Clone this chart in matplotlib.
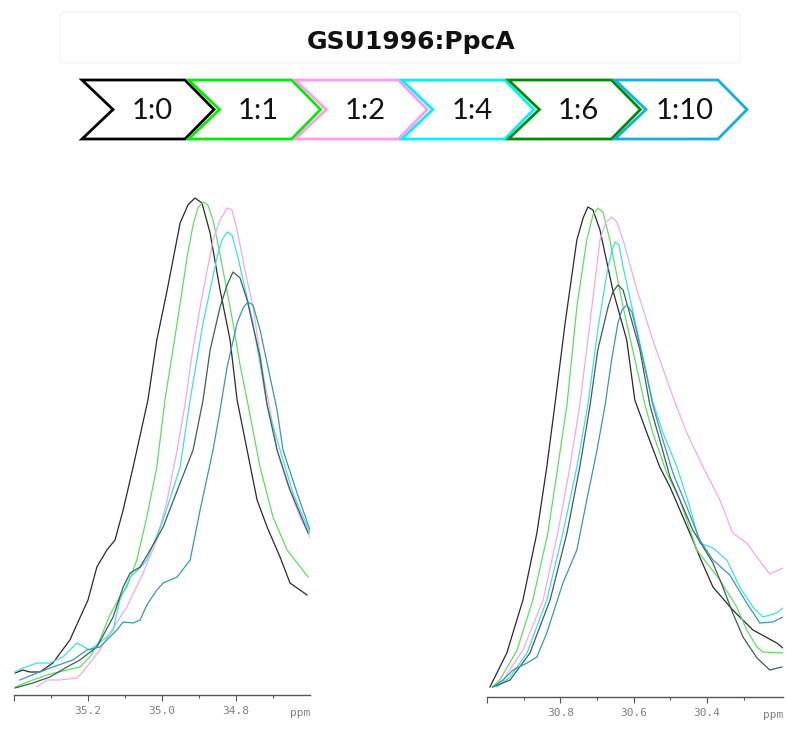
import matplotlib
matplotlib.use("Agg")

import matplotlib.pyplot as plt
import matplotlib.patches as patches

# ======================
# Data
# ======================

title = "GSU1996:PpcA"
ratios = ["1:0", "1:1", "1:2", "1:4", "1:6", "1:10"]
badge_colors = ["#000000", "#00ee00", "#ff9cf2", "#00f2ff", "#008a00", "#12aee8"]
trace_colors = ["#2a2a2a", "#5ee05e", "#f2a8ee", "#3ee0e6", "#3d5f55", "#3a98b0"]

left_ticks = [35.4, 35.2, 35.0, 34.8]
left_ticklabels = ["", "35.2", "35.0", "34.8"]
left_minor = [35.3, 35.1, 34.9, 34.7]
right_ticks = [31.0, 30.8, 30.6, 30.4]
right_ticklabels = ["", "30.8", "30.6", "30.4"]
right_minor = [30.9, 30.7, 30.5, 30.3]

# left panel (35.4 - 34.6 ppm)
l0_ppm = [35.397, 35.376, 35.357, 35.330, 35.295, 35.249, 35.227, 35.200, 35.176, 35.149, 35.127, 35.105, 35.078, 35.038, 35.014,
          34.986, 34.951, 34.930, 34.911, 34.892, 34.870, 34.843, 34.816, 34.797, 34.770, 34.743, 34.716, 34.681, 34.654, 34.608]
l0_int = [4.4, 5.0, 4.6, 4.6, 6.4, 11.0, 14.6, 19.0, 25.6, 29.0, 31.0, 37.0, 45.6, 59.0, 71.0,
          81.0, 94.4, 98.0, 99.4, 98.4, 92.4, 81.0, 71.0, 59.0, 49.0, 39.0, 33.6, 27.6, 22.4, 20.0]

l1_ppm = [35.397, 35.349, 35.311, 35.257, 35.222, 35.195, 35.168, 35.141, 35.114, 35.095, 35.068, 35.041, 35.014, 34.992, 34.959,
          34.932, 34.916, 34.903, 34.889, 34.876, 34.862, 34.851, 34.830, 34.808, 34.789, 34.770, 34.735, 34.700, 34.662, 34.605]
l1_int = [1.6, 3.0, 4.0, 5.0, 5.6, 7.6, 11.0, 16.0, 19.6, 21.6, 27.0, 35.6, 45.6, 59.0, 74.4,
          87.6, 94.0, 97.4, 98.6, 98.0, 95.0, 91.0, 83.0, 74.4, 66.0, 59.0, 45.6, 35.6, 29.0, 23.6]

l2_ppm = [35.338, 35.311, 35.276, 35.230, 35.214, 35.168, 35.132, 35.095, 35.051, 35.014, 34.986, 34.959, 34.938, 34.919,
          34.897, 34.862, 34.843, 34.824, 34.811, 34.797, 34.776, 34.754, 34.727, 34.708, 34.689, 34.662, 34.627, 34.600]
l2_int = [1.6, 3.0, 3.0, 3.4, 4.6, 9.0, 13.4, 17.6, 24.4, 31.0, 39.0, 49.0, 58.0, 68.0,
          77.6, 91.0, 95.0, 97.4, 97.0, 93.0, 85.0, 77.6, 64.4, 57.0, 49.0, 42.4, 35.6, 31.6]

l3_ppm = [35.397, 35.376, 35.338, 35.303, 35.268, 35.230, 35.195, 35.149, 35.132, 35.114, 35.086, 35.065, 35.041, 34.997,
          34.951, 34.924, 34.889, 34.851, 34.838, 34.824, 34.811, 34.795, 34.754, 34.716, 34.681, 34.646, 34.600]
l3_int = [4.6, 5.4, 6.4, 6.4, 7.6, 10.4, 9.0, 11.6, 13.0, 19.0, 23.6, 25.0, 27.0, 35.0,
          45.6, 59.0, 74.4, 87.6, 91.0, 92.6, 92.0, 87.6, 74.4, 58.0, 49.0, 40.4, 32.4]

l4_ppm = [35.397, 35.349, 35.303, 35.257, 35.222, 35.176, 35.132, 35.105, 35.086, 35.059, 35.032, 34.997, 34.951,
          34.916, 34.889, 34.870, 34.843, 34.824, 34.808, 34.789, 34.770, 34.735, 34.716, 34.689, 34.654, 34.605]
l4_int = [1.4, 2.4, 3.6, 5.6, 7.0, 9.6, 15.6, 21.6, 24.4, 25.6, 29.0, 33.6, 42.4,
          49.0, 59.0, 69.0, 77.6, 82.0, 84.6, 83.4, 79.0, 67.6, 58.0, 49.0, 41.0, 32.4]

l5_ppm = [35.384, 35.338, 35.295, 35.241, 35.203, 35.168, 35.141, 35.122, 35.105, 35.078, 35.059, 35.041, 35.014, 34.997, 34.959,
          34.924, 34.897, 34.862, 34.843, 34.824, 34.797, 34.781, 34.768, 34.754, 34.735, 34.708, 34.689, 34.673, 34.635, 34.600]
l5_int = [3.0, 4.4, 5.6, 7.0, 9.0, 9.6, 11.6, 13.0, 14.6, 14.4, 15.0, 18.0, 21.0, 22.4, 23.6,
          27.0, 37.0, 49.0, 57.0, 65.6, 74.4, 77.4, 78.6, 78.0, 73.0, 63.6, 57.0, 49.0, 40.4, 33.0]

# right panel (31.0 - 30.19 ppm)
r0_ppm = [30.992, 30.946, 30.902, 30.864, 30.837, 30.815, 30.787, 30.755, 30.738, 30.725, 30.711, 30.692, 30.657,
          30.619, 30.597, 30.564, 30.529, 30.501, 30.474, 30.439, 30.420, 30.384, 30.330, 30.275, 30.210, 30.193]
r0_int = [2.0, 8.8, 19.4, 32.8, 46.0, 58.4, 74.8, 91.4, 95.8, 98.0, 97.4, 93.4, 81.4,
          71.4, 59.4, 52.8, 46.0, 42.0, 37.4, 31.4, 28.0, 22.0, 17.4, 13.4, 10.8, 9.8]

r1_ppm = [30.986, 30.965, 30.918, 30.875, 30.834, 30.807, 30.782, 30.755, 30.728, 30.711, 30.698, 30.684, 30.665,
          30.629, 30.569, 30.548, 30.510, 30.474, 30.428, 30.365, 30.319, 30.292, 30.264, 30.248, 30.193]
r1_int = [2.0, 3.4, 9.4, 19.4, 32.8, 46.0, 58.4, 78.0, 91.4, 96.4, 97.8, 97.0, 91.4,
          78.0, 58.4, 52.8, 44.8, 39.4, 29.4, 23.4, 18.0, 13.4, 10.0, 9.0, 8.8]

r2_ppm = [30.984, 30.956, 30.902, 30.847, 30.807, 30.774, 30.747, 30.714, 30.692, 30.676, 30.659, 30.646,
          30.629, 30.591, 30.548, 30.488, 30.455, 30.411, 30.365, 30.330, 30.292, 30.264, 30.229, 30.193]
r2_int = [2.0, 3.4, 9.4, 19.4, 32.8, 46.0, 58.4, 78.0, 91.4, 95.0, 96.0, 95.0,
          91.4, 81.4, 71.4, 59.0, 52.8, 46.0, 39.4, 32.8, 30.8, 28.0, 24.6, 25.8]

r3_ppm = [30.973, 30.937, 30.891, 30.837, 30.793, 30.755, 30.725, 30.698, 30.673, 30.659, 30.651, 30.640, 30.629,
          30.591, 30.548, 30.520, 30.482, 30.447, 30.420, 30.384, 30.346, 30.311, 30.275, 30.248, 30.210, 30.193]
r3_int = [2.0, 4.0, 8.8, 19.4, 32.8, 46.0, 58.4, 73.4, 84.8, 89.4, 91.0, 90.4, 86.0,
          73.4, 59.0, 52.8, 46.0, 38.0, 30.8, 29.8, 27.4, 22.0, 18.0, 16.0, 16.8, 17.8]

r4_ppm = [30.984, 30.937, 30.883, 30.828, 30.782, 30.747, 30.719, 30.698, 30.670, 30.657, 30.643, 30.629, 30.616,
          30.583, 30.556, 30.529, 30.501, 30.474, 30.439, 30.384, 30.357, 30.330, 30.302, 30.264, 30.229, 30.196]
r4_int = [2.0, 3.4, 8.8, 19.4, 32.8, 46.0, 58.4, 69.4, 78.0, 81.0, 82.4, 81.4, 78.0,
          69.4, 58.4, 51.4, 44.0, 39.4, 33.4, 26.8, 22.0, 16.8, 12.0, 7.8, 5.4, 6.0]

r5_ppm = [30.984, 30.956, 30.929, 30.891, 30.864, 30.837, 30.793, 30.755, 30.728, 30.700, 30.678, 30.659, 30.643, 30.632, 30.619,
          30.605, 30.591, 30.564, 30.548, 30.523, 30.493, 30.455, 30.420, 30.384, 30.338, 30.292, 30.256, 30.221, 30.193]
r5_int = [2.0, 3.4, 5.4, 6.8, 8.0, 12.8, 22.8, 29.4, 39.4, 49.4, 58.4, 68.0, 74.8, 77.4, 78.4,
          77.0, 72.8, 64.0, 58.4, 52.0, 44.8, 38.0, 31.4, 27.4, 24.4, 18.8, 14.8, 15.0, 16.0]

left_series = [(l0_ppm, l0_int), (l1_ppm, l1_int), (l2_ppm, l2_int), (l3_ppm, l3_int), (l4_ppm, l4_int), (l5_ppm, l5_int)]
right_series = [(r0_ppm, r0_int), (r1_ppm, r1_int), (r2_ppm, r2_int), (r3_ppm, r3_int), (r4_ppm, r4_int), (r5_ppm, r5_int)]

# ======================
# Figure
# ======================

W, H = 786, 748
fig = plt.figure(figsize=(W / 100, H / 100), dpi=100)

# header drawn in pixel coordinates
hdr = fig.add_axes([0, 0, 1, 1])
hdr.set_xlim(0, W)
hdr.set_ylim(H, 0)
hdr.axis("off")

hdr.add_patch(patches.FancyBboxPatch((62, 14), 676, 47, boxstyle="round,pad=2,rounding_size=6",
                                     facecolor="none", edgecolor="#f7f7f7", lw=1.5))
hdr.text(411, 42, title, ha="center", va="center", fontsize=18, fontweight="bold",
         family="DejaVu Sans", color="#111111")

top, bot = 80, 139
mid = (top + bot) / 2
for i, (lbl, col) in enumerate(zip(ratios, badge_colors)):
    x0 = 82 + 106.6 * i
    pts = [(x0, top), (x0 + 103, top), (x0 + 132, mid), (x0 + 103, bot), (x0, bot), (x0 + 31, mid)]
    hdr.add_patch(patches.Polygon(pts, closed=True, facecolor="white", edgecolor=col, lw=2.0, joinstyle="miter"))
    hdr.text(x0 + 70, mid + 1, lbl, ha="center", va="center", fontsize=21,
             family=["Lato", "DejaVu Sans"], color="#111111")


def spectrum_panel(rect, series, xlim, ticks, ticklabels, minor):
    ax = fig.add_axes(rect)
    ax.patch.set_visible(False)
    for (x, y), col in zip(series, trace_colors):
        ax.plot(x, y, color=col, lw=0.9, solid_joinstyle="round")
    ax.set_xlim(*xlim)
    ax.set_ylim(0, 100)
    for s in ["top", "left", "right"]:
        ax.spines[s].set_visible(False)
    ax.spines["bottom"].set_color("#555555")
    ax.spines["bottom"].set_linewidth(1.0)
    ax.set_yticks([])
    ax.set_xticks(ticks)
    ax.set_xticklabels(ticklabels, family="DejaVu Sans Mono", fontsize=8, color="#808080")
    ax.set_xticks(minor, minor=True)
    ax.tick_params(axis="x", which="major", direction="out", length=4, width=0.8, color="#555555", pad=4)
    ax.tick_params(axis="x", which="minor", direction="out", length=2.5, width=0.8, color="#555555")
    ax.text(1.0, -0.035, "ppm", transform=ax.transAxes, ha="right", va="center",
            family="DejaVu Sans Mono", fontsize=8, color="#808080")
    return ax


spectrum_panel([14 / W, 53 / H, 296 / W, 500 / H], left_series, (35.4, 34.6),
               left_ticks, left_ticklabels, left_minor)
spectrum_panel([487 / W, 51 / H, 296 / W, 500 / H], right_series, (31.0, 30.193),
               right_ticks, right_ticklabels, right_minor)

fig.savefig("out.png", dpi=100)
plt.close(fig)
